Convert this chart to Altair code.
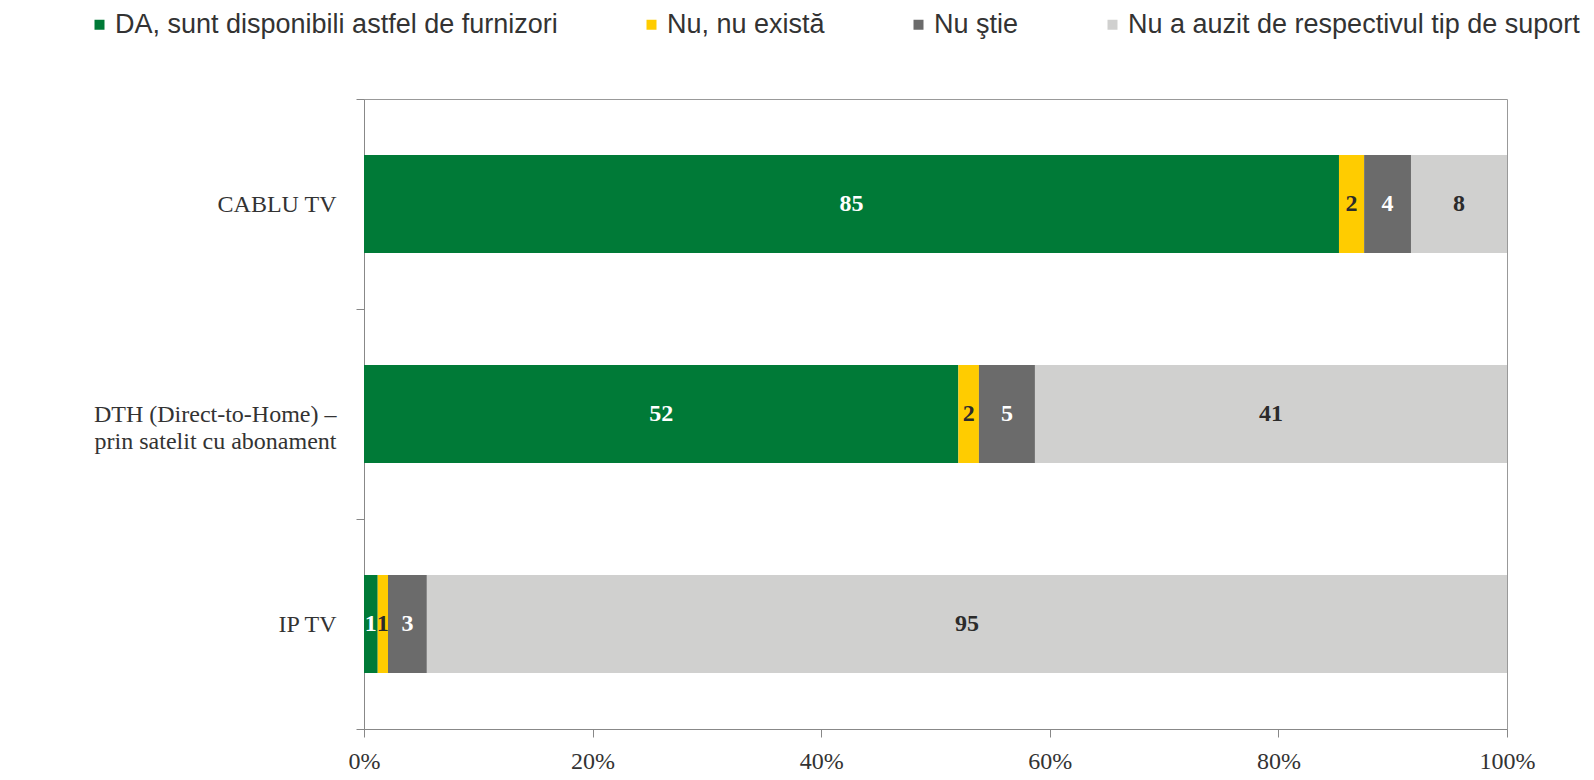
import altair as alt
import pandas as pd

categories = ["CABLU TV", "DTH (Direct-to-Home) – prin satelit cu abonament", "IP TV"]
series = [
    "DA, sunt disponibili astfel de furnizori",
    "Nu, nu există",
    "Nu ştie",
    "Nu a auzit de respectivul tip de suport",
]
# estimated shares (%) per category, in series order
values_cablu = [85.3, 2.2, 4.1, 8.4]
values_dth = [52.0, 1.8, 4.9, 41.3]
values_iptv = [1.2, 0.9, 3.4, 94.5]
# printed labels
labels_cablu = ["85", "2", "4", "8"]
labels_dth = ["52", "2", "5", "41"]
labels_iptv = ["1", "1", "3", "95"]
colors = ["#007A37", "#FFCC00", "#6B6B6B", "#D0D0CF"]

rows = []
for cat, vals, labs in zip(categories, [values_cablu, values_dth, values_iptv],
                           [labels_cablu, labels_dth, labels_iptv]):
    for i, (s, v, l) in enumerate(zip(series, vals, labs)):
        rows.append({"category": cat, "series": s, "order": i, "value": v, "label": l})
df = pd.DataFrame(rows)

serif = "Liberation Serif"
sans = "Liberation Sans, Arial"

y_enc = alt.Y(
    "category:N",
    sort=categories,
    title=None,
    scale=alt.Scale(paddingInner=0, paddingOuter=0),
    axis=alt.Axis(
        tickBand="extent",
        tickSize=8,
        labelPadding=20,
        labelFont=serif,
        labelFontSize=24,
        labelColor="#333333",
        labelLineHeight=27,
        labelLimit=400,
        domainColor="#888888",
        tickColor="#888888",
        labelExpr="indexof(datum.label, '– ') > 0 ? [substring(datum.label, 0, indexof(datum.label, '– ') + 1), substring(datum.label, indexof(datum.label, '– ') + 2)] : datum.label",
    ),
)

bars = alt.Chart(df).mark_bar(height=alt.RelativeBandSize(band=0.467)).encode(
    x=alt.X(
        "value:Q",
        stack="normalize",
        title=None,
        scale=alt.Scale(domain=[0, 1], nice=False),
        axis=alt.Axis(
            format=".0%",
            values=[0, 0.2, 0.4, 0.6, 0.8, 1.0],
            tickSize=8,
            labelPadding=12,
            labelFlush=False,
            labelFont=serif,
            labelFontSize=24,
            labelColor="#333333",
            grid=False,
            domainColor="#888888",
            tickColor="#888888",
        ),
    ),
    y=y_enc,
    color=alt.Color(
        "series:N",
        sort=series,
        scale=alt.Scale(domain=series, range=colors),
        legend=alt.Legend(
            title=None,
            orient="none",
            direction="horizontal",
            columns=4,
            legendX=-278,
            legendY=-88,
            symbolType="square",
            symbolSize=100,
            symbolStrokeWidth=0,
            labelFont=sans,
            labelFontSize=27,
            labelColor="#333333",
            labelLimit=700,
            columnPadding=80,
            labelOffset=2,
        ),
    ),
    order=alt.Order("order:Q"),
)

text = alt.Chart(df).transform_stack(
    stack="value",
    as_=["v0", "v1"],
    groupby=["category"],
    sort=[alt.SortField("order", order="ascending")],
    offset="normalize",
).transform_calculate(
    mid="(datum.v0 + datum.v1) / 2"
).mark_text(font=serif, fontSize=24, fontWeight="bold").encode(
    x=alt.X("mid:Q"),
    y=alt.Y("category:N", sort=categories),
    text="label:N",
    color=alt.condition(
        "datum.order == 1 || datum.order == 3",
        alt.value("#2b2b2b"),
        alt.value("white"),
    ),
)

chart = (
    alt.layer(bars, text)
    .properties(
        width=1143,
        height=630,
        autosize=alt.AutoSizeParams(type="none"),
        padding={"left": 356, "top": 91, "right": 79, "bottom": 43},
    )
    .configure_view(stroke="#999999", strokeWidth=1)
)

chart.save("out.html", embed_options={"renderer": "svg", "actions": False})
